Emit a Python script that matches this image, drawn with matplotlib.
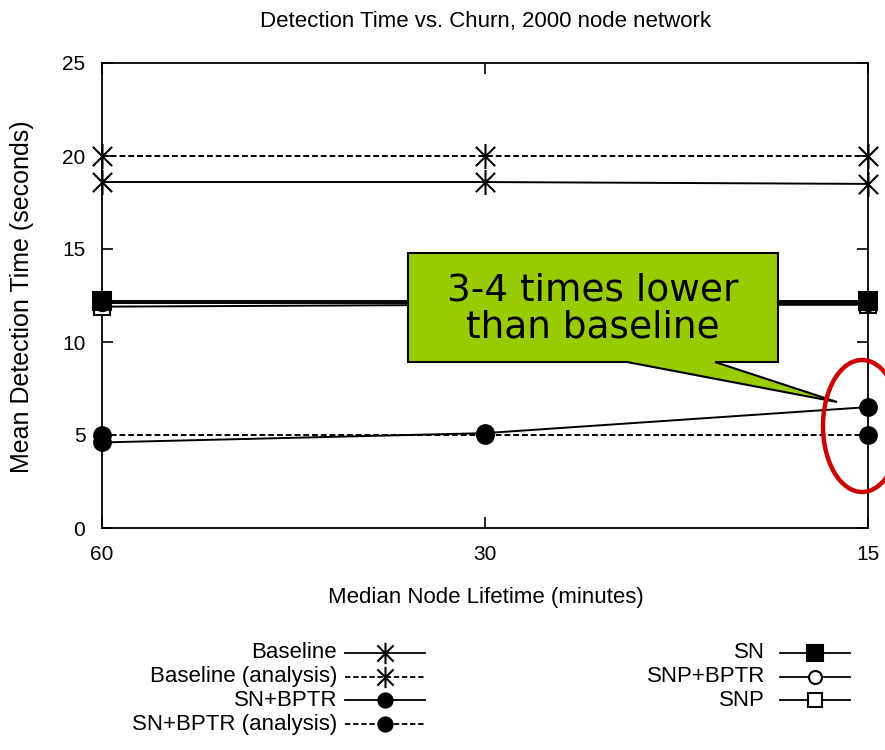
import matplotlib
matplotlib.use("Agg")
import matplotlib.pyplot as plt
from matplotlib.path import Path
from matplotlib.patches import Polygon, Ellipse
from matplotlib.lines import Line2D

plt.rcParams['font.family'] = ['Liberation Sans', 'DejaVu Sans']

# data
lifetimes = ["60", "30", "15"]
baseline = [18.6, 18.6, 18.5]
baseline_analysis = [20.0, 20.0, 20.0]
sn_bptr = [4.6, 5.1, 6.5]
sn_bptr_analysis = [5.0, 5.0, 5.0]
sn = [12.2, 12.2, 12.2]
snp_bptr = [12.1, 12.1, 12.1]
snp = [11.9, 12.0, 12.0]

star = Path([(-1, -1), (1, 1), (-1, 1), (1, -1), (0, -1.3), (0, 1.3)],
            [Path.MOVETO, Path.LINETO, Path.MOVETO, Path.LINETO, Path.MOVETO, Path.LINETO])

series = [
    ("Baseline", baseline, "-", star, "black", 18),
    ("Baseline (analysis)", baseline_analysis, (0, (3, 1.5)), star, "black", 18),
    ("SN+BPTR", sn_bptr, "-", "o", "black", 12),
    ("SN+BPTR (analysis)", sn_bptr_analysis, (0, (3, 1.5)), "o", "black", 12),
    ("SNP", snp, "-", "s", "white", 12),
    ("SNP+BPTR", snp_bptr, "-", "o", "white", 11),
    ("SN", sn, "-", "s", "black", 13),
]
legend_order = ["Baseline", "Baseline (analysis)", "SN+BPTR", "SN+BPTR (analysis)",
                "SN", "SNP+BPTR", "SNP"]

W, H = 885, 750
fig = plt.figure(figsize=(W / 100, H / 100), dpi=100)
ax = fig.add_axes([102 / W, 1 - 528 / H, (868 - 102) / W, (528 - 63) / H])

xs = list(range(len(lifetimes)))
for name, vals, ls, mk, fc, ms in series:
    ax.plot(xs, vals, linestyle=ls, color="black", lw=1.4, marker=mk,
            markersize=ms, markerfacecolor=fc, markeredgecolor="black",
            markeredgewidth=1.5, clip_on=False, zorder=3)

ax.set_xlim(0, 2)
ax.set_ylim(0, 25)
ax.set_xticks(xs)
ax.set_xticklabels(lifetimes)
ax.set_yticks(range(0, 26, 5))
ax.tick_params(direction="in", length=8, width=1.2, top=True, right=True,
               labelsize=15, pad=12)
for s in ax.spines.values():
    s.set_linewidth(1.3)

fig.text(486 / W, 1 - 22 / H, "Detection Time vs. Churn, 2000 node network",
         ha="center", va="center", fontsize=16)
fig.text(486 / W, 1 - 598 / H, "Median Node Lifetime (minutes)",
         ha="center", va="center", fontsize=16)
fig.text(22 / W, 1 - 297 / H, "Mean Detection Time (seconds)",
         ha="center", va="center", rotation=90, fontsize=18)

# gnuplot style key: label right-aligned, sample after it
by_name = {s[0]: s for s in series}
left_rows = [by_name[n] for n in legend_order[:4]]
right_rows = [by_name[n] for n in legend_order[4:]]
for rows, xtext, x0, x1 in [(left_rows, 337, 345, 425), (right_rows, 765, 780, 850)]:
    for i, (name, vals, ls, mk, fc, ms) in enumerate(rows):
        y = 1 - (653 + i * 23.7) / H
        fig.text(xtext / W, y, name, ha="right", va="center", fontsize=16)
        fig.add_artist(Line2D([x0 / W, x1 / W], [y, y], transform=fig.transFigure,
                              color="black", lw=1.3, linestyle=ls))
        fig.add_artist(Line2D([(x0 + x1) / 2 / W], [y], transform=fig.transFigure,
                              marker=mk, markersize=ms * 0.85, markerfacecolor=fc,
                              markeredgecolor="black", markeredgewidth=1.5))

# callout
pts = [(408, 253), (778, 253), (778, 362), (715, 362), (837, 402), (627, 362), (408, 362)]
fig.add_artist(Polygon([(px / W, 1 - py / H) for px, py in pts], closed=True,
                       transform=fig.transFigure, facecolor="#99cc00",
                       edgecolor="black", lw=1.5, zorder=5))
fig.text(593 / W, 1 - 309 / H, "3-4 times lower\nthan baseline", ha="center",
         va="center", fontsize=27, family="DejaVu Sans", linespacing=1.05, zorder=6)

fig.add_artist(Ellipse((862 / W, 1 - 426 / H), 78 / W, 132 / H,
                       transform=fig.transFigure, fill=False,
                       edgecolor="#cc0000", lw=3.2, zorder=6))

fig.savefig("out.png", dpi=100)
